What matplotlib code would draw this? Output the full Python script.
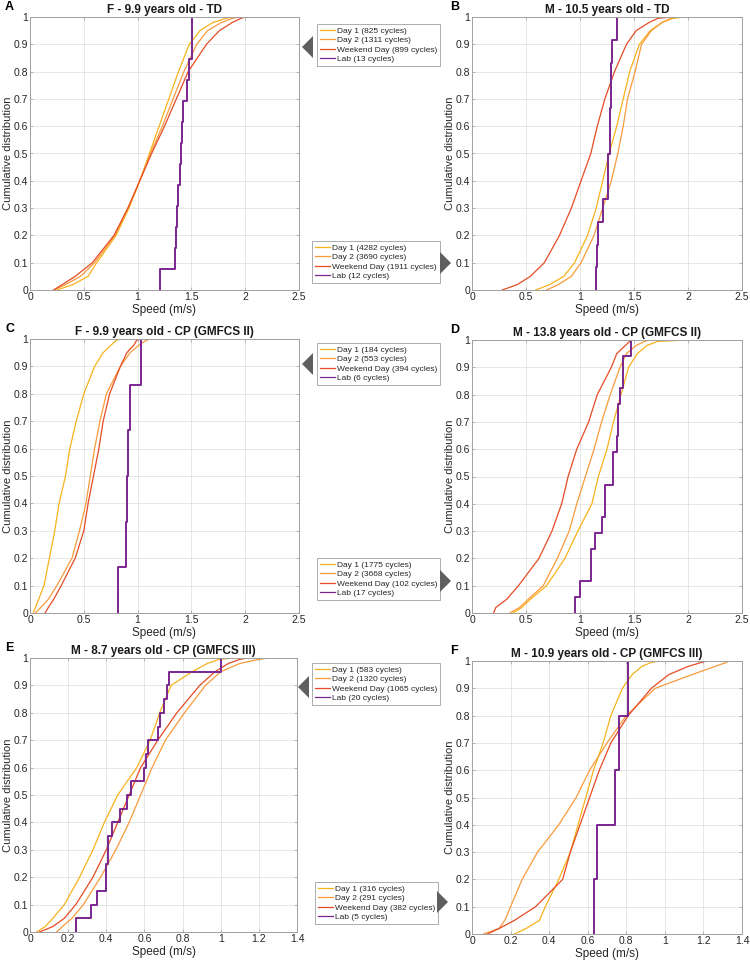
import numpy as np
import matplotlib
matplotlib.use("Agg")
import matplotlib.pyplot as plt
from matplotlib.patches import Polygon
from matplotlib.ticker import FormatStrFormatter, MultipleLocator

plt.rcParams['font.family'] = ['Liberation Sans', 'DejaVu Sans']

W, H = 750, 964

levels = [0, 0.02, 0.05, 0.1, 0.2, 0.3, 0.4, 0.5, 0.6, 0.7, 0.8, 0.9, 0.95, 0.98, 0.995, 1.0]

# A - F 9.9 TD
a_day1 = [0.25, 0.40, 0.54, 0.62, 0.80, 0.92, 1.02, 1.11, 1.20, 1.29, 1.38, 1.48, 1.58, 1.70, 1.82, 1.88]
a_day2 = [0.22, 0.33, 0.47, 0.60, 0.79, 0.91, 1.02, 1.12, 1.23, 1.33, 1.43, 1.55, 1.65, 1.78, 1.88, 1.95]
a_wknd = [0.22, 0.30, 0.42, 0.58, 0.78, 0.91, 1.02, 1.13, 1.25, 1.36, 1.47, 1.64, 1.76, 1.88, 1.96, 2.00]
a_lab = [1.21, 1.35, 1.36, 1.37, 1.38, 1.39, 1.40, 1.41, 1.42, 1.46, 1.48, 1.51, 1.51]

# B - M 10.5 TD
b_day1 = [0.59, 0.72, 0.85, 0.95, 1.07, 1.15, 1.21, 1.27, 1.34, 1.40, 1.46, 1.55, 1.65, 1.76, 1.86, 1.97]
b_day2 = [0.69, 0.80, 0.92, 1.01, 1.13, 1.21, 1.29, 1.35, 1.40, 1.44, 1.51, 1.57, 1.66, 1.76, 1.84, 1.91]
b_wknd = [0.28, 0.42, 0.54, 0.67, 0.81, 0.92, 1.01, 1.10, 1.16, 1.23, 1.32, 1.43, 1.52, 1.64, 1.72, 1.85]
b_lab = [1.15, 1.16, 1.17, 1.21, 1.26, 1.26, 1.28, 1.28, 1.29, 1.29, 1.30, 1.34]

# C - F 9.9 CP (GMFCS II)
c_day1 = [0.03, 0.05, 0.08, 0.13, 0.18, 0.23, 0.27, 0.33, 0.37, 0.43, 0.50, 0.60, 0.68, 0.76, 0.80, 0.84]
c_day2 = [0.05, 0.10, 0.17, 0.25, 0.39, 0.46, 0.52, 0.56, 0.60, 0.65, 0.71, 0.84, 0.93, 1.02, 1.08, 1.12]
c_wknd = [0.14, 0.17, 0.22, 0.29, 0.42, 0.50, 0.54, 0.59, 0.64, 0.68, 0.74, 0.84, 0.90, 0.97, 0.99, 1.02]
c_lab = [0.82, 0.89, 0.90, 0.91, 0.93, 1.03]

# D - M 13.8 CP (GMFCS II)
d_day1 = [0.38, 0.46, 0.54, 0.69, 0.86, 0.98, 1.11, 1.17, 1.25, 1.31, 1.38, 1.45, 1.53, 1.62, 1.72, 2.00]
d_day2 = [0.35, 0.44, 0.52, 0.66, 0.79, 0.90, 0.97, 1.05, 1.13, 1.20, 1.28, 1.37, 1.43, 1.52, 1.60, 1.64]
d_wknd = [0.20, 0.22, 0.32, 0.43, 0.62, 0.74, 0.83, 0.89, 0.97, 1.08, 1.16, 1.29, 1.34, 1.42, 1.46, 1.47]
d_lab = [0.95, 1.00, 1.10, 1.10, 1.14, 1.20, 1.23, 1.23, 1.31, 1.31, 1.34, 1.35, 1.35, 1.37, 1.40, 1.40, 1.47]

# E - M 8.7 CP (GMFCS III)
e_day1 = [0.035, 0.08, 0.12, 0.18, 0.26, 0.33, 0.39, 0.46, 0.56, 0.63, 0.68, 0.74, 0.85, 0.93, 0.99, 1.07]
e_day2 = [0.14, 0.17, 0.22, 0.28, 0.37, 0.45, 0.52, 0.58, 0.64, 0.71, 0.81, 0.92, 1.00, 1.10, 1.20, 1.25]
e_wknd = [0.05, 0.12, 0.18, 0.24, 0.33, 0.40, 0.46, 0.52, 0.58, 0.67, 0.77, 0.89, 0.97, 1.04, 1.10, 1.14]
e_lab = [0.24, 0.32, 0.35, 0.40, 0.40, 0.41, 0.41, 0.43, 0.47, 0.51, 0.53, 0.60, 0.61, 0.62, 0.67, 0.68, 0.70, 0.72, 0.73, 1.00]

# F - M 10.9 CP (GMFCS III)
f_day1 = [0.22, 0.28, 0.35, 0.38, 0.45, 0.51, 0.55, 0.59, 0.63, 0.68, 0.72, 0.78, 0.83, 0.88, 0.93, 0.97]
f_day2 = [0.06, 0.14, 0.17, 0.20, 0.26, 0.34, 0.45, 0.54, 0.61, 0.70, 0.80, 0.95, 1.14, 1.26, 1.32, 1.33]
f_wknd = [0.08, 0.14, 0.22, 0.33, 0.47, 0.51, 0.56, 0.61, 0.66, 0.72, 0.81, 0.93, 1.02, 1.12, 1.19, 1.22]
f_lab = [0.63, 0.65, 0.74, 0.76, 0.81]

titles = ["F - 9.9 years old - TD", "M - 10.5 years old - TD",
          "F - 9.9 years old - CP (GMFCS II)", "M - 13.8 years old - CP (GMFCS II)",
          "M - 8.7 years old - CP (GMFCS III)", "M - 10.9 years old - CP (GMFCS III)"]
letters = ["A", "B", "C", "D", "E", "F"]
cycles = [(825, 1311, 899, 13), (4282, 3690, 1911, 12),
          (184, 553, 394, 6), (1775, 3668, 102, 17),
          (583, 1320, 1065, 20), (316, 291, 382, 5)]
xmax = [2.5, 2.5, 2.5, 2.5, 1.4, 1.4]
xstep = [0.5, 0.5, 0.5, 0.5, 0.2, 0.2]

panels = [(a_day1, a_day2, a_wknd, a_lab), (b_day1, b_day2, b_wknd, b_lab),
          (c_day1, c_day2, c_wknd, c_lab), (d_day1, d_day2, d_wknd, d_lab),
          (e_day1, e_day2, e_wknd, e_lab), (f_day1, f_day2, f_wknd, f_lab)]

col_day1 = '#F7B21B'
col_day2 = '#F99A3C'
col_wknd = '#E64B25'
col_lab = '#7B2590'

# pixel boxes (x0, y0, x1, y1) of each axes
boxes = [(30, 17, 299, 290), (472, 17, 742, 290),
         (30, 339, 299, 613), (472, 340, 742, 613),
         (30, 658, 297, 932), (472, 661, 742, 934)]
# legend top-left corners and arrow (tip x, centre y, direction)
leg_pos = [(317, 24), (312, 241), (317, 343), (317, 558), (312, 663), (315, 882)]
arrows = [(302, 47, -1), (451, 263, 1), (302, 364, -1), (451, 581, 1), (298, 687, -1), (448, 902, 1)]


def px_rect(x0, y0, x1, y1):
    return [x0 / W, 1 - y1 / H, (x1 - x0) / W, (y1 - y0) / H]


fig = plt.figure(figsize=(W / 100, H / 100), dpi=100)

for i in range(6):
    ax = fig.add_axes(px_rect(*boxes[i]))
    day1, day2, wknd, lab = panels[i]
    n1, n2, n3, n4 = cycles[i]
    h1, = ax.plot(day1, levels, color=col_day1, lw=0.9, label='Day 1 (%d cycles)' % n1)
    h2, = ax.plot(day2, levels, color=col_day2, lw=0.9, label='Day 2 (%d cycles)' % n2)
    h3, = ax.plot(wknd, levels, color=col_wknd, lw=0.9, label='Weekend Day (%d cycles)' % n3)
    # lab cycles drawn as an empirical cdf staircase
    lab_x = np.sort(lab)
    lab_f = np.arange(1, len(lab_x) + 1) / len(lab_x)
    h4, = ax.plot(np.r_[lab_x[0], lab_x], np.r_[0, lab_f], drawstyle='steps-post',
                  color=col_lab, lw=1.4, label='Lab (%d cycles)' % n4)

    ax.set_xlim(0, xmax[i])
    ax.set_ylim(0, 1)
    ax.xaxis.set_major_locator(MultipleLocator(xstep[i]))
    ax.yaxis.set_major_locator(MultipleLocator(0.1))
    ax.xaxis.set_major_formatter(FormatStrFormatter('%g'))
    ax.yaxis.set_major_formatter(FormatStrFormatter('%g'))
    ax.grid(True, color='#E3E3E3', lw=0.6)
    ax.set_axisbelow(True)
    for s in ax.spines.values():
        s.set_color('#A0A0A0')
        s.set_linewidth(0.7)
    ax.tick_params(labelsize=7.5, colors='#A0A0A0', labelcolor='#262626',
                   direction='in', length=2.5, width=0.5, top=True, right=True, pad=1.5)
    ax.set_xlabel('Speed (m/s)', fontsize=8.5, color='#262626', labelpad=1.5)
    ax.set_ylabel('Cumulative distribution', fontsize=8, color='#262626', labelpad=0.5)
    ax.set_title(titles[i], fontsize=8.5, fontweight='bold', color='#1A1A1A', pad=3)

    bx = boxes[i]
    fig.text((bx[0] - 25) / W if i % 2 == 0 else (bx[0] - 22) / W, 1 - (bx[1] - 10) / H,
             letters[i], fontsize=9, fontweight='bold', ha='left', va='center')

    lx, ly = leg_pos[i]
    leg = ax.legend(handles=[h1, h2, h3, h4], loc='upper left',
                    bbox_to_anchor=(lx / W, 1 - ly / H), bbox_transform=fig.transFigure,
                    fontsize=6, frameon=True, fancybox=False, framealpha=1,
                    borderaxespad=0, borderpad=0.35, labelspacing=0.2,
                    handlelength=1.8, handletextpad=0.25)
    leg.get_frame().set_edgecolor('#A0A0A0')
    leg.get_frame().set_linewidth(0.6)
    for t in leg.get_texts():
        t.set_color('#262626')
    for lh in leg.get_lines():
        lh.set_linewidth(0.9)

    # grey pointer next to each legend
    tx, cy, d = arrows[i]
    bxp = tx - 11 * d
    tri = Polygon([(tx / W, 1 - cy / H), (bxp / W, 1 - (cy - 11) / H), (bxp / W, 1 - (cy + 11) / H)],
                  closed=True, transform=fig.transFigure, facecolor='#5F5F5F', edgecolor='none')
    fig.patches.append(tri)

fig.savefig('out.png', dpi=100)
